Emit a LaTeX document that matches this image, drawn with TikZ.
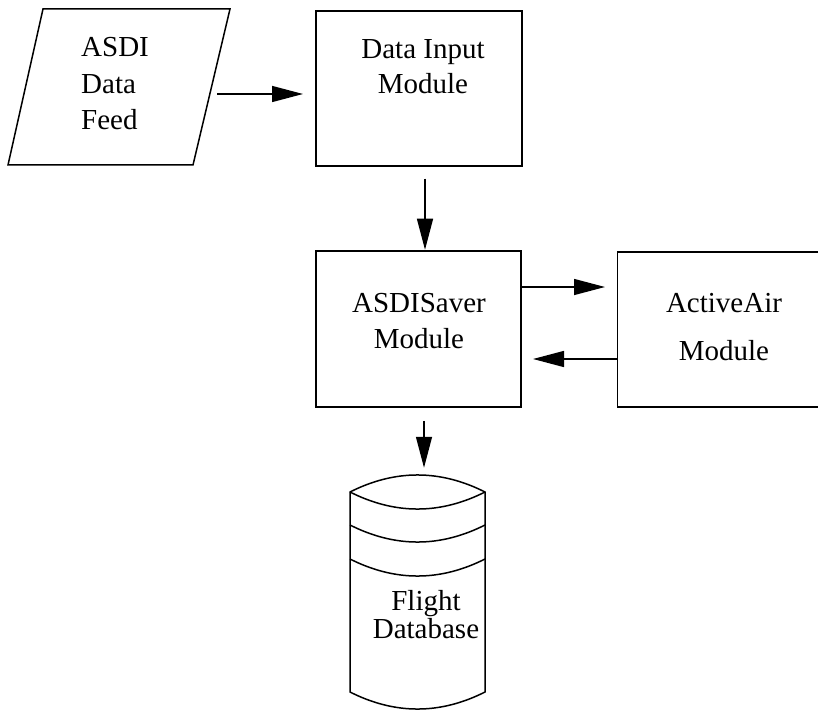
\documentclass[tikz,border=0pt]{standalone}
\usepackage{fontspec}
\setmainfont{Liberation Serif}
\usetikzlibrary{arrows.meta}
\tikzset{
  x=1pt, y=1pt,
  line/.style={line width=1.5pt, line join=miter},
  boxnode/.style={draw, line width=1.5pt, rectangle, inner sep=0pt},
  label/.style={inner sep=0pt, anchor=base, align=center},
  arr/.style={line width=1.4pt, -{Triangle[length=31pt, width=16pt]}},
  txt/.style={font=\fontsize{29}{#1}\selectfont}
}
\begin{document}
\begin{tikzpicture}
\useasboundingbox (0,0) rectangle (818,-711);
% parallelogram input
\draw[line] (43,-9) -- (230,-9) -- (193,-165) -- (8,-165) -- cycle;
\node[inner sep=0pt, minimum width=150pt, minimum height=150pt] (feed) at (119,-87) {};
\node[label, anchor=base west, align=left, txt=36.5] (feedtxt) at (81,-130) {ASDI\\Data\\Feed};
% boxes
\node[boxnode, minimum width=206pt, minimum height=155pt] (input) at (419,-88.5) {};
\node[boxnode, minimum width=205pt, minimum height=156pt] (saver) at (418.5,-329) {};
\node[boxnode, minimum width=202pt, minimum height=155pt] (active) at (718.5,-329.5) {};
\node[label, txt=35] (inputtxt) at (423,-94) {Data Input\\Module};
\node[label, txt=36] (savertxt) at (419,-348) {ASDISaver\\Module};
\node[label, txt=48] (activetxt) at (724,-360) {ActiveAir\\Module};
% database cylinder
\draw[line] (350,-492) .. controls (395,-469.3) and (440,-469.3) .. (485,-492)
  -- (485,-692) .. controls (440,-714.7) and (395,-714.7) .. (350,-692) -- cycle;
\draw[line] (350,-492) .. controls (395,-514.7) and (440,-514.7) .. (485,-492);
\draw[line] (350,-525) .. controls (395,-547.7) and (440,-547.7) .. (485,-525);
\draw[line] (350,-559) .. controls (395,-581.7) and (440,-581.7) .. (485,-559);
\node[inner sep=0pt, minimum width=135pt, minimum height=235pt] (db) at (417.5,-592.5) {};
\node[label, txt=27.5] (dbtxt) at (426,-638) {Flight\\Database};
% connectors
\draw[arr] (217,-94) -- (303,-94);
\draw[arr] (input.south -| 425,0) ++(0,-12) -- ++(0,-71);
\draw[arr] (522,-287) -- (605,-287);
\draw[arr] (618,-359) -- (533,-359);
\draw[arr] (saver.south -| 424,0) ++(0,-13) -- ++(0,-47);
\end{tikzpicture}
\end{document}
